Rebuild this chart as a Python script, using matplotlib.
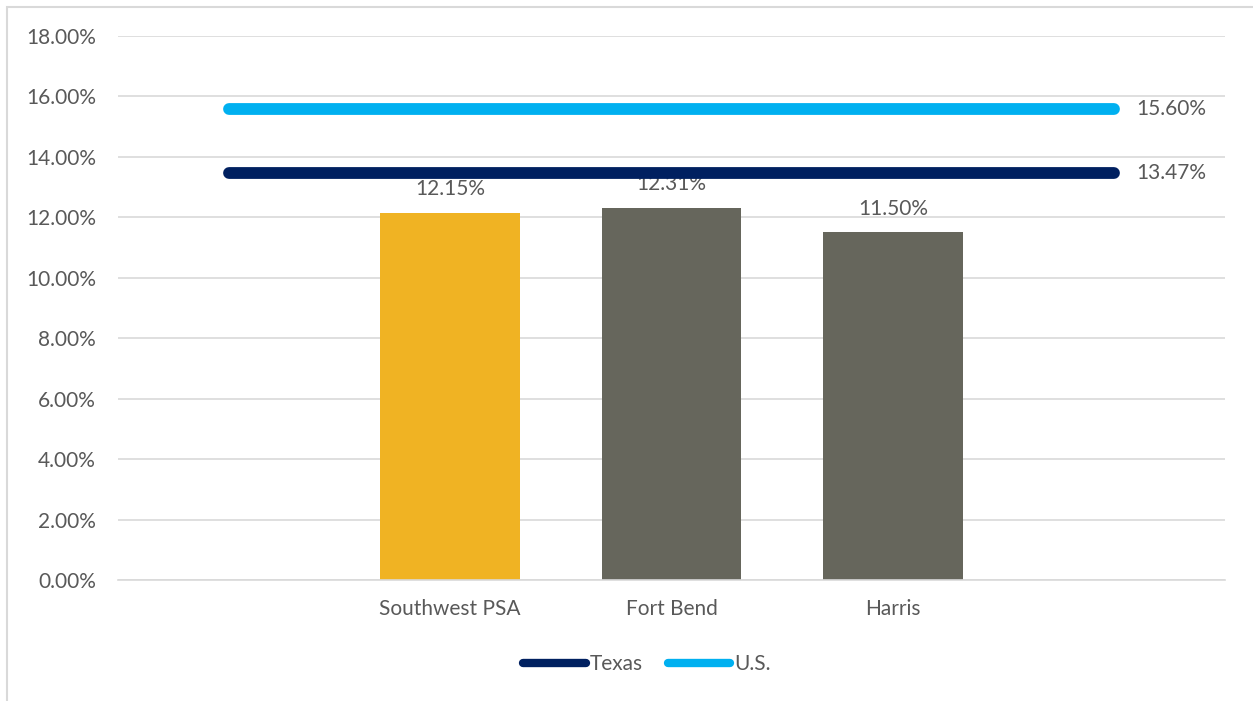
import matplotlib.pyplot as plt
from matplotlib.patches import Rectangle
from matplotlib.ticker import PercentFormatter

plt.rcParams['font.family'] = ['Lato', 'DejaVu Sans']

# Datos
categorias = ['', 'Southwest PSA', 'Fort Bend', 'Harris', '']
barras = [None, 12.15, 12.31, 11.50, None]
colores_barras = ['#F0B323', '#66665C', '#66665C']
texas = [13.47] * 5
us = [15.60] * 5

texto_color = '#595959'
fs = 15

fig = plt.figure(figsize=(12.53, 7.01), dpi=100)
ax = fig.add_axes([0.0942, 0.1726, 0.8835, 0.776])

# Marco exterior
fig.patches.append(Rectangle((7 / 1253, -0.05), 1.1, 1.05 - 7 / 701, transform=fig.transFigure,
                             fill=False, edgecolor='#D9D9D9', linewidth=1.5))

x = list(range(len(categorias)))
bx = [i for i, v in zip(x, barras) if v is not None]
bv = [v for v in barras if v is not None]
ax.bar(bx, bv, width=0.63, color=colores_barras, zorder=2)
for xi, v in zip(bx, bv):
    ax.text(xi, v + 0.45, f'{v:.2f}%', ha='center', va='bottom', fontsize=fs,
            color=texto_color, zorder=3)

ax.plot(x, texas, color='#002060', linewidth=8.5, solid_capstyle='round', label='Texas', zorder=4)
ax.plot(x, us, color='#00B0F0', linewidth=8.5, solid_capstyle='round', label='U.S.', zorder=4)
ax.text(x[-1] + 0.1, texas[-1], f'{texas[-1]:.2f}%', va='center', ha='left', fontsize=fs, color=texto_color)
ax.text(x[-1] + 0.1, us[-1], f'{us[-1]:.2f}%', va='center', ha='left', fontsize=fs, color=texto_color)

ax.set_xlim(-0.5, len(categorias) - 0.5)
ax.set_ylim(0, 18)
ax.set_yticks([0, 2, 4, 6, 8, 10, 12, 14, 16, 18])
ax.yaxis.set_major_formatter(PercentFormatter(decimals=2))
ax.set_xticks(x)
ax.set_xticklabels(categorias)
ax.tick_params(axis='both', length=0, labelsize=fs, labelcolor=texto_color)
ax.tick_params(axis='x', pad=14)
ax.tick_params(axis='y', pad=16)
ax.grid(axis='y', color='#D9D9D9', linewidth=1.2, zorder=0)
ax.set_axisbelow(True)
for s in ['top', 'right', 'left']:
    ax.spines[s].set_visible(False)
ax.spines['bottom'].set_color('#D9D9D9')
ax.spines['bottom'].set_linewidth(1.2)

leg = fig.legend(loc='center', bbox_to_anchor=(647 / 1253, 1 - 664 / 701), ncol=2,
                 frameon=False, fontsize=fs, handlelength=3.0, handletextpad=0.2,
                 columnspacing=1.2)
for t in leg.get_texts():
    t.set_color(texto_color)
for h in leg.get_lines():
    h.set_linewidth(6)

fig.savefig('out.png', dpi=100)
